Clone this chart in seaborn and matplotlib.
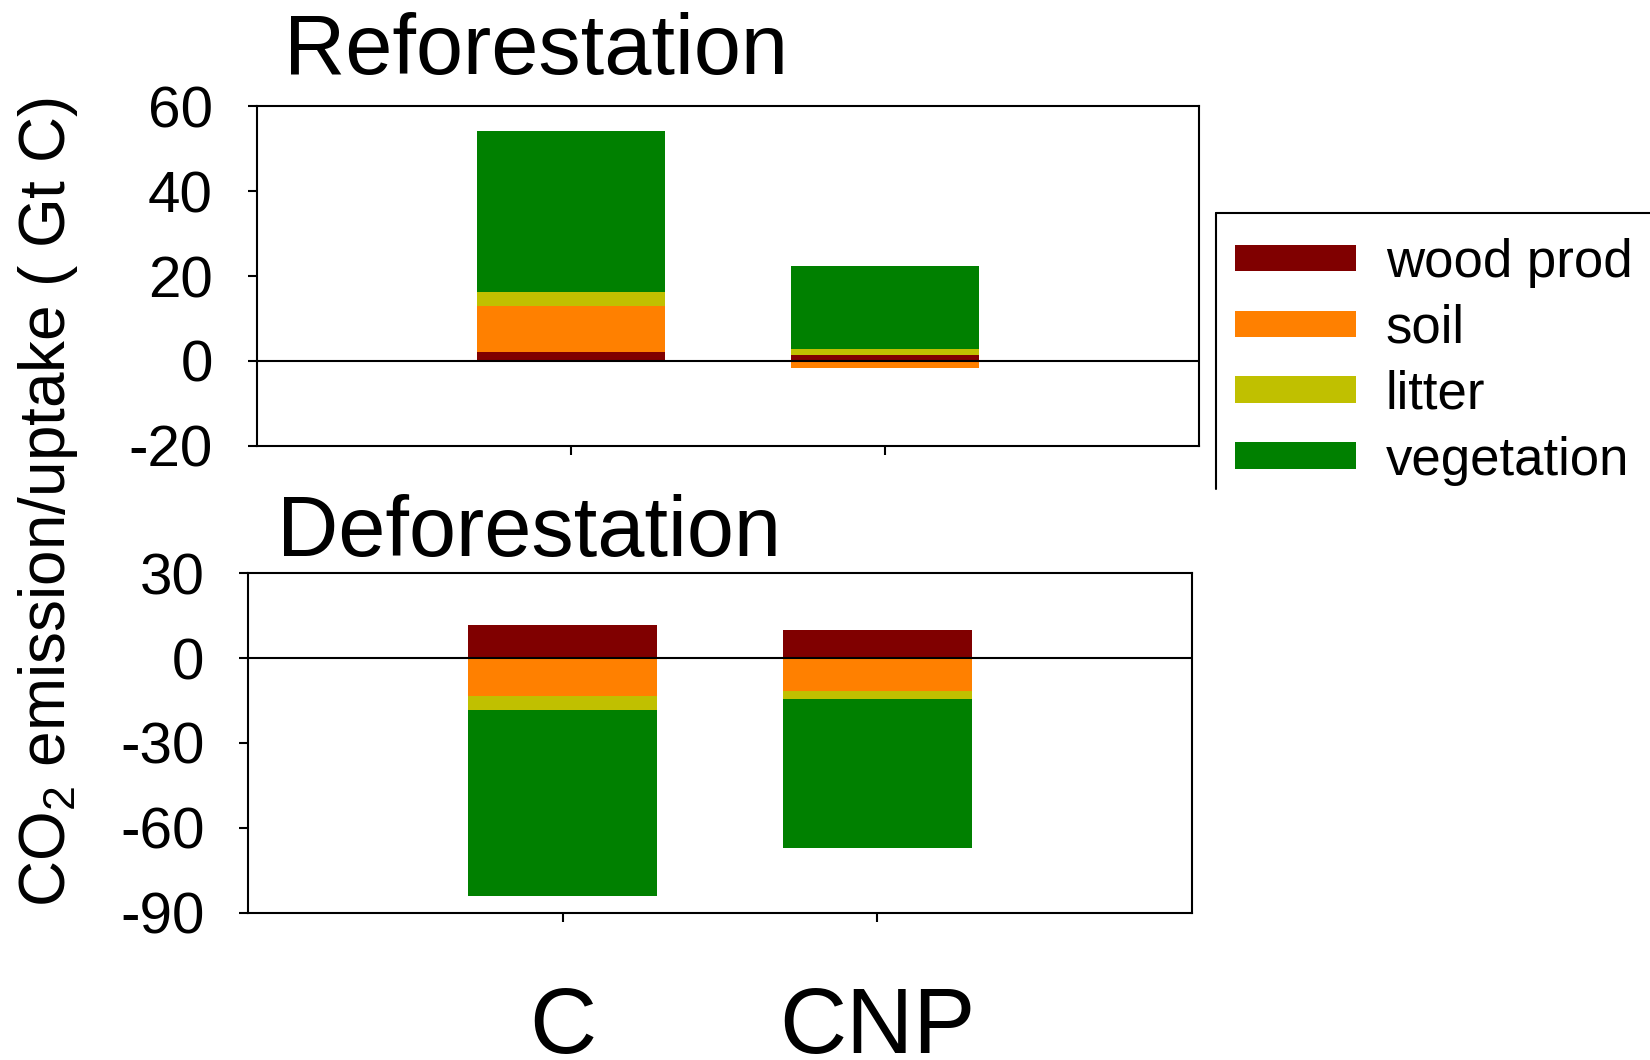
import numpy as np
import pandas as pd
import matplotlib
matplotlib.use("Agg")
import matplotlib.pyplot as plt
from matplotlib.patches import Patch
from matplotlib.lines import Line2D
import seaborn as sns

# datos (Gt C)
categorias = ["C", "CNP"]
componentes = ["wood prod", "soil", "litter", "vegetation"]
colores = ["#800000", "#FF8000", "#C0C000", "#008000"]

refo_wood = [2.0, 1.3]
refo_soil = [10.9, -1.6]
refo_litter = [3.4, 1.5]
refo_veg = [38.0, 19.5]

defo_wood = [11.8, 9.9]
defo_soil = [-13.3, -11.5]
defo_litter = [-5.0, -2.8]
defo_veg = [-65.8, -52.8]

sns.set_theme(style="white")
plt.rcParams['font.family'] = ['Liberation Sans', 'DejaVu Sans']
plt.rcParams['mathtext.default'] = 'regular'
plt.rcParams['axes.unicode_minus'] = False
plt.rcParams['text.color'] = 'black'
plt.rcParams['xtick.color'] = 'black'
plt.rcParams['ytick.color'] = 'black'
plt.rcParams['axes.labelcolor'] = 'black'

fig = plt.figure(figsize=(16.5, 10.6), dpi=100)
ax1 = fig.add_axes([0.1556, 0.5795, 0.5713, 0.3202])
ax2 = fig.add_axes([0.1505, 0.1390, 0.5718, 0.3202])


def barras_apiladas(ax, series):
    # apilar positivos hacia arriba y negativos hacia abajo desde cero
    base_pos = np.zeros(len(categorias))
    base_neg = np.zeros(len(categorias))
    for vals, col in zip(series, colores):
        vals = np.array(vals, dtype=float)
        base = np.where(vals >= 0, base_pos, base_neg)
        sns.barplot(x=categorias, y=vals, bottom=base, color=col,
                    saturation=1, width=0.6, errorbar=None, linewidth=0, ax=ax)
        base_pos = base_pos + np.where(vals >= 0, vals, 0)
        base_neg = base_neg + np.where(vals < 0, vals, 0)
    ax.axhline(0, color="black", lw=1.5, zorder=3)
    ax.set_xlim(-1, 2)
    for s in ax.spines.values():
        s.set_color("black")
        s.set_linewidth(1.5)
    ax.tick_params(axis="y", left=True, right=False, direction="out", length=6.5,
                   width=1.5, labelsize=42, pad=25, color="black", labelcolor="black")
    ax.tick_params(axis="x", bottom=True, top=False, direction="out", length=6.5,
                   width=1.5, color="black", labelcolor="black")
    ax.set_xlabel("")
    ax.set_ylabel("")


barras_apiladas(ax1, [refo_wood, refo_soil, refo_litter, refo_veg])
ax1.set_ylim(-20, 60)
ax1.set_yticks([-20, 0, 20, 40, 60])
ax1.tick_params(axis="x", labelbottom=False)

barras_apiladas(ax2, [defo_wood, defo_soil, defo_litter, defo_veg])
ax2.set_ylim(-90, 30)
ax2.set_yticks([-90, -60, -30, 0, 30])
ax2.tick_params(axis="x", labelsize=67, pad=46)

# titulos de paneles
fig.text(284 / 1650, 1 - 73.7 / 1060, "Reforestation", fontsize=61, ha="left", va="baseline")
fig.text(277 / 1650, 1 - 555.6 / 1060, "Deforestation", fontsize=61, ha="left", va="baseline")

# etiqueta eje y
fig.text(48 / 1650, 0.526, "CO$_2$ emission/uptake ( Gt C)", fontsize=46,
         rotation=90, ha="center", va="center")

# leyenda
handles = [Patch(facecolor=c, edgecolor="none", label=l) for c, l in zip(colores, componentes)]
fig.legend(handles=handles, loc="upper left", bbox_to_anchor=(1235 / 1650, 1 - 238 / 1060),
           frameon=False, fontsize=38, handlelength=2.29, handleheight=0.4,
           handletextpad=0.57, labelspacing=0.3, borderpad=0, borderaxespad=0)
# marco parcial de la leyenda (solo borde superior e izquierdo)
x0, y0, y1 = 1216.3 / 1650, 1 - 213.3 / 1060, 1 - 489 / 1060
fig.add_artist(Line2D([x0, x0], [y1, y0], color="black", lw=1.5, transform=fig.transFigure))
fig.add_artist(Line2D([x0, 1.0], [y0, y0], color="black", lw=1.5, transform=fig.transFigure))

plt.savefig("out.png", dpi=100)
